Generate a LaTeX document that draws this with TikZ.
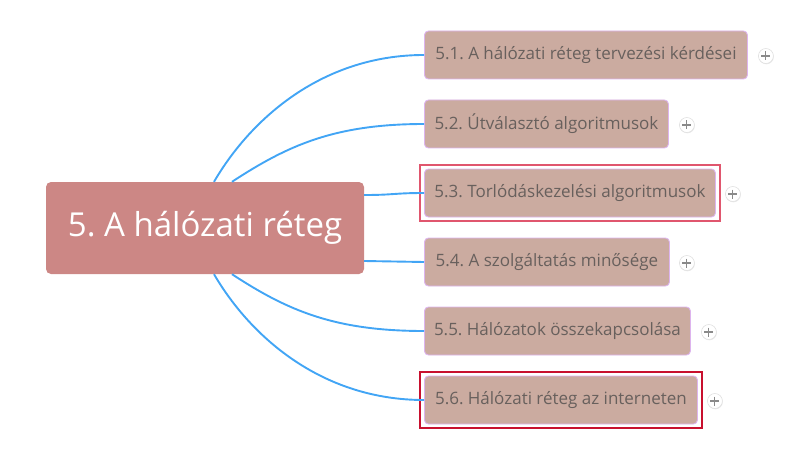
\documentclass[tikz,border=0pt]{standalone}
\usepackage{fontspec}
\setmainfont{Open Sans}
\usetikzlibrary{calc,fit,shadows}
\definecolor{rootfill}{HTML}{CC8785}
\definecolor{childfill}{HTML}{CBABA0}
\definecolor{childborder}{HTML}{DDB4EE}
\definecolor{childtext}{HTML}{68605D}
\definecolor{linkblue}{HTML}{42A5F5}
\definecolor{selpink}{HTML}{E0566E}
\definecolor{seldark}{HTML}{C8102E}
\definecolor{plusgray}{HTML}{8A8A8A}
\frenchspacing
\begin{document}
\begin{tikzpicture}[x=1pt,y=-1pt,
  root/.style={fill=rootfill, rounded corners=5pt, text=white, inner sep=0pt,
    minimum width=318pt, minimum height=92pt, font=\fontsize{33}{38}\selectfont},
  topic/.style={draw=childborder, line width=0.9pt, fill=childfill, rounded corners=4pt,
    text=childtext, inner sep=0pt, minimum height=48pt, anchor=west,
    font=\fontsize{17}{20}\selectfont},
  link/.style={draw=linkblue, line width=1.9pt},
  plusbtn/.style={circle, draw=black!12, line width=0.6pt, fill=white, minimum size=15pt, inner sep=0pt,
    drop shadow={shadow xshift=0.4pt, shadow yshift=-0.8pt, opacity=0.18}},
  plusbar/.style={draw=plusgray, line width=1.1pt},
  selA/.style={draw=selpink, line width=2pt, inner sep=4pt, rectangle},
  selB/.style={draw=seldark, line width=2pt, inner sep=4pt, rectangle},
]
\useasboundingbox (0,0) rectangle (791,465);

\node[root] (root) at (205,228) {5. A hálózati réteg};

\node[topic, minimum width=323pt] (c1) at (424,55) {5.1. A hálózati réteg tervezési kérdései};
\node[topic, minimum width=244pt] (c2) at (424,124) {5.2. Útválasztó algoritmusok};
\node[topic, minimum width=291pt] (c3) at (424,193) {5.3. Torlódáskezelési algoritmusok};
\node[topic, minimum width=245pt] (c4) at (424,262) {5.4. A szolgáltatás minősége};
\node[topic, minimum width=266pt] (c5) at (424,331) {5.5. Hálózatok összekapcsolása};
\node[topic, minimum width=273pt] (c6) at (424,400) {5.6. Hálózati réteg az interneten};

\node[selA, fit=(c3)] (s3) {};
\node[selB, fit=(c6)] (s6) {};

\coordinate (o1) at ($(root.north)+(9,0)$);
\coordinate (o2) at ($(root.north)+(27,0)$);
\coordinate (o3) at ($(root.east)+(0,-33)$);
\coordinate (o4) at ($(root.east)+(0,33)$);
\coordinate (o5) at ($(root.south)+(27,0)$);
\coordinate (o6) at ($(root.south)+(9,0)$);

\draw[link] (o1) .. controls ($(o1)+(38,-65)$) and ($(c1.west)+(-100,0)$) .. (c1.west);
\draw[link] (o2) .. controls ($(o2)+(55,-36)$) and ($(c2.west)+(-90,0)$) .. (c2.west);
\draw[link] (o3) .. controls ($(o3)+(30,0)$) and ($(c3.west)+(-30,0)$) .. (c3.west);
\draw[link] (o4) .. controls ($(o4)+(30,0)$) and ($(c4.west)+(-30,0)$) .. (c4.west);
\draw[link] (o5) .. controls ($(o5)+(55,36)$) and ($(c5.west)+(-90,0)$) .. (c5.west);
\draw[link] (o6) .. controls ($(o6)+(38,65)$) and ($(c6.west)+(-100,0)$) .. (c6.west);

\foreach \c/\d in {c1/18, c2/18, c3/17, c4/17, c5/18, c6/17} {
  \node[plusbtn] (p\c) at ($(\c.east)+(\d,1)$) {};
  \draw[plusbar] ($(p\c.center)+(-4.5,0)$) -- ($(p\c.center)+(4.5,0)$);
  \draw[plusbar] ($(p\c.center)+(0,-4.5)$) -- ($(p\c.center)+(0,4.5)$);
}
\end{tikzpicture}
\end{document}
